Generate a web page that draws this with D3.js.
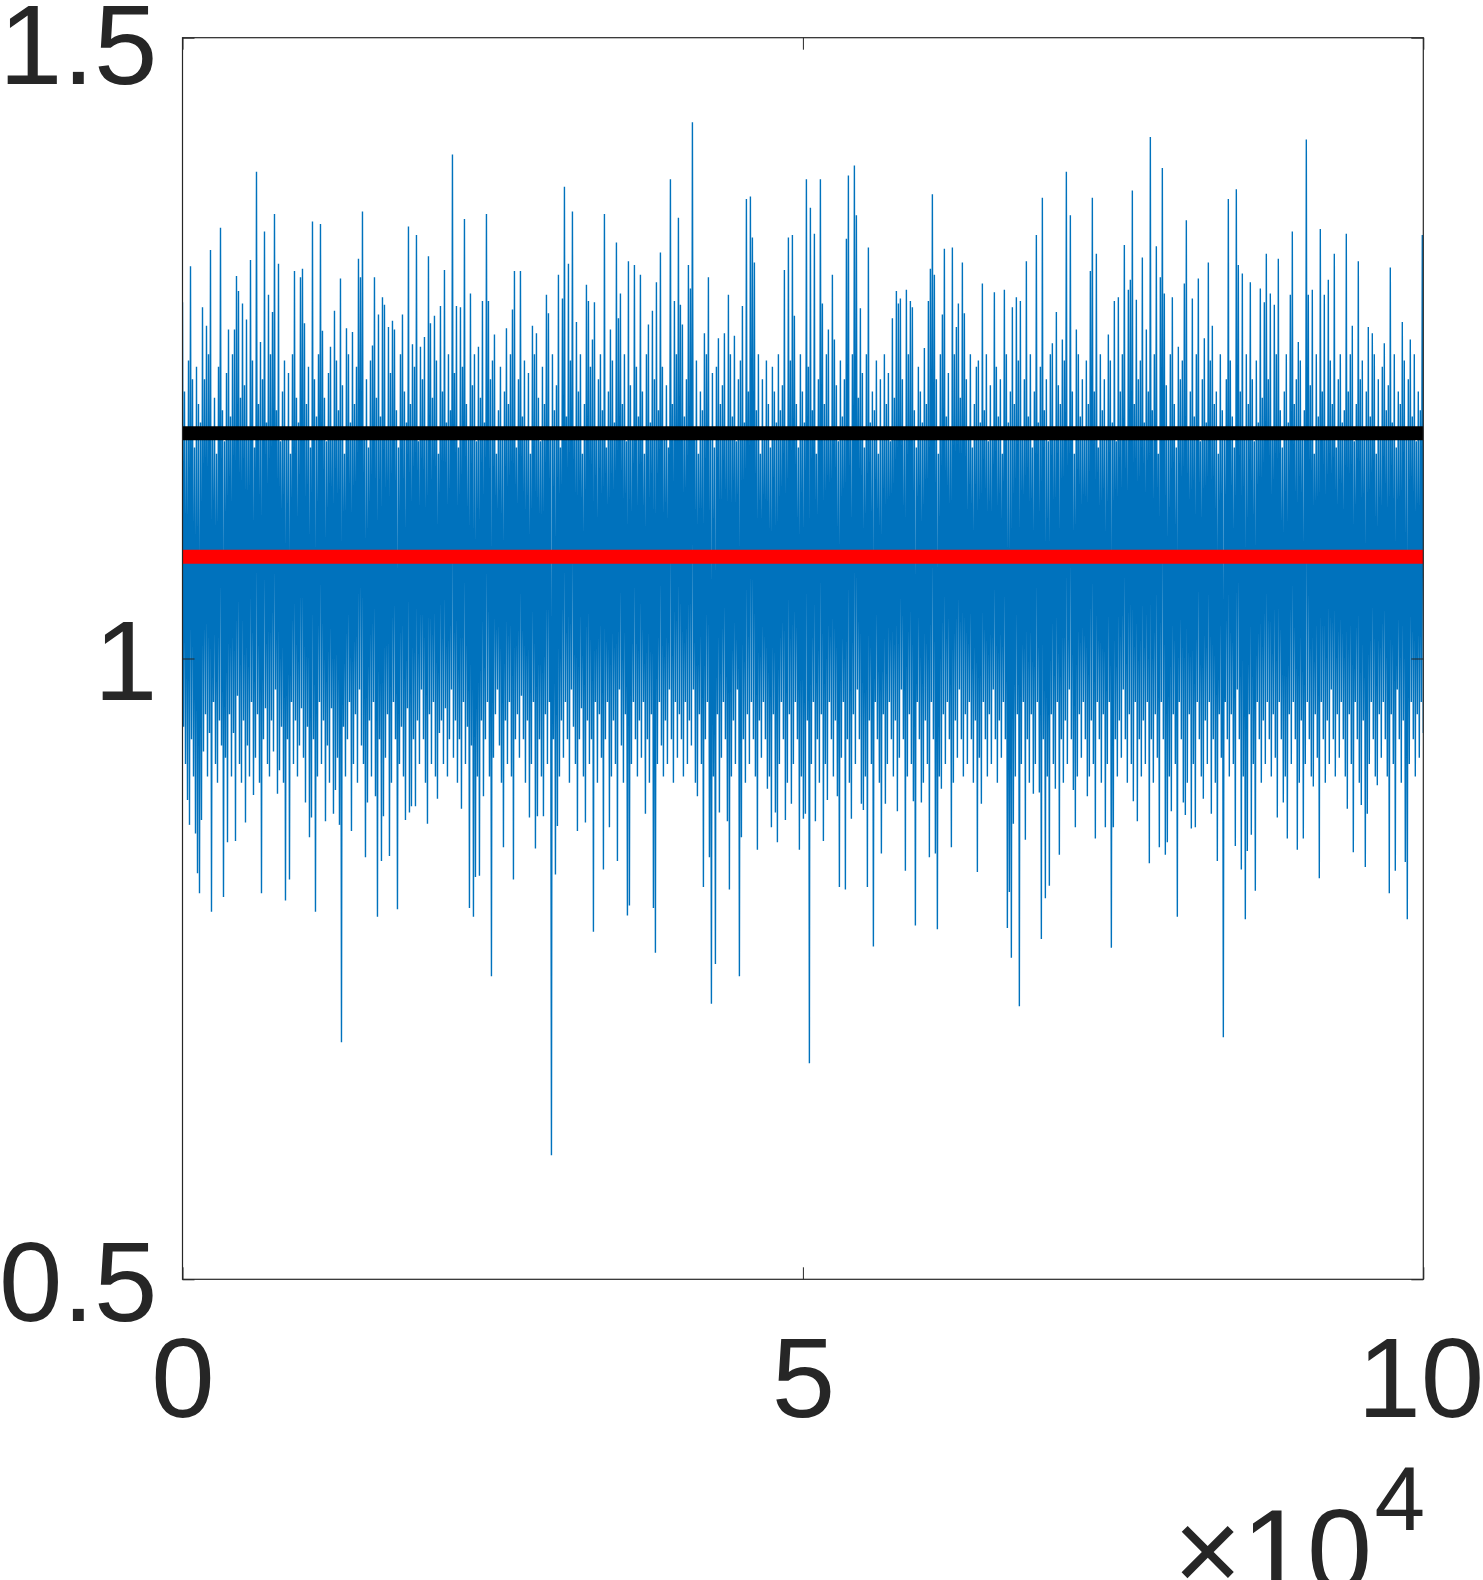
<!DOCTYPE html>
<html>
<head>
<meta charset="utf-8">
<script src="https://cdn.jsdelivr.net/npm/d3@7"></script>
<style>
  html, body { margin: 0; padding: 0; background: #fff; }
  svg { display: block; }
  text { font-family: "Liberation Sans", Arial, Helvetica, sans-serif; fill: #262626; }
</style>
</head>
<body>
<svg id="chart" width="1483" height="1580"></svg>
<script>
// ---- data ----
// per pixel-pair column: highest and lowest value reached by the noisy series
const upperValues = [
1.287,1.215,1.185,1.24,1.316,1.225,1.17,1.235,1.205,1.19,
1.283,1.225,1.268,1.245,1.329,1.18,1.21,1.165,1.235,1.347,
1.2,1.175,1.23,1.265,1.195,1.245,1.265,1.308,1.296,1.21,
1.286,1.22,1.273,1.18,1.321,1.24,1.17,1.392,1.205,1.255,
1.225,1.344,1.19,1.293,1.245,1.279,1.358,1.2,1.318,1.175,
1.215,1.24,1.185,1.23,1.165,1.245,1.312,1.21,1.19,1.307,
1.314,1.270,1.205,1.235,1.17,1.352,1.225,1.195,1.245,1.350,
1.264,1.21,1.175,1.23,1.251,1.185,1.280,1.24,1.2,1.306,
1.22,1.165,1.266,1.245,1.19,1.263,1.205,1.235,1.322,1.307,
1.360,1.18,1.225,1.17,1.24,1.252,1.307,1.21,1.277,1.195,
1.291,1.285,1.185,1.267,1.23,1.272,1.265,1.2,1.17,1.245,
1.277,1.215,1.19,1.348,1.205,1.253,1.235,1.341,1.175,1.251,
1.225,1.259,1.18,1.324,1.270,1.21,1.276,1.24,1.165,1.284,
1.215,1.313,1.19,1.245,1.2,1.406,1.23,1.284,1.17,1.283,
1.235,1.354,1.205,1.185,1.294,1.22,1.245,1.175,1.251,1.21,
1.288,1.19,1.358,1.288,1.225,1.24,1.261,1.165,1.2,1.235,
1.18,1.215,1.266,1.205,1.245,1.281,1.312,1.17,1.225,1.312,
1.195,1.24,1.185,1.23,1.165,1.268,1.245,1.262,1.21,1.175,
1.235,1.205,1.293,1.278,1.18,1.245,1.2,1.22,1.309,1.17,
1.290,1.380,1.195,1.318,1.24,1.360,1.185,1.271,1.215,1.245,
1.165,1.205,1.301,1.288,1.235,1.257,1.287,1.18,1.225,1.245,
1.2,1.358,1.17,1.215,1.265,1.24,1.19,1.335,1.274,1.294,
1.205,1.245,1.175,1.320,1.22,1.185,1.317,1.235,1.195,1.309,
1.215,1.165,1.245,1.269,1.19,1.280,1.225,1.303,1.2,1.327,
1.235,1.18,1.22,1.17,1.386,1.205,1.288,1.245,1.355,1.285,
1.269,1.195,1.225,1.317,1.298,1.432,1.185,1.24,1.165,1.215,
1.2,1.262,1.245,1.307,1.18,1.23,1.17,1.235,1.258,1.205,
1.22,1.262,1.185,1.293,1.245,1.195,1.260,1.175,1.225,1.24,
1.284,1.19,1.370,1.215,1.372,1.339,1.319,1.2,1.245,1.165,
1.225,1.18,1.24,1.205,1.17,1.235,1.215,1.19,1.245,1.2,
1.22,1.313,1.185,1.339,1.24,1.341,1.276,1.205,1.17,1.245,
1.215,1.19,1.386,1.235,1.363,1.2,1.342,1.165,1.225,1.386,
1.286,1.205,1.245,1.265,1.18,1.309,1.257,1.22,1.175,1.24,
1.195,1.225,1.338,1.389,1.185,1.245,1.397,1.357,1.21,1.282,
1.23,1.17,1.245,1.331,1.19,1.215,1.2,1.24,1.165,1.225,
1.185,1.245,1.205,1.23,1.175,1.274,1.21,1.296,1.286,1.290,
1.225,1.18,1.297,1.245,1.288,1.283,1.2,1.17,1.235,1.215,
1.19,1.250,1.205,1.288,1.314,1.374,1.309,1.225,1.165,1.245,
1.277,1.330,1.195,1.23,1.18,1.331,1.245,1.267,1.286,1.21,
1.319,1.278,1.225,1.185,1.245,1.17,1.205,1.235,1.24,1.19,
1.302,1.2,1.245,1.175,1.22,1.185,1.295,1.235,1.195,1.225,
1.165,1.297,1.245,1.19,1.215,1.283,1.205,1.291,1.24,1.288,
1.18,1.225,1.320,1.195,1.245,1.17,1.215,1.341,1.19,1.235,
1.371,1.2,1.225,1.175,1.245,1.254,1.185,1.279,1.22,1.205,
1.257,1.24,1.392,1.18,1.357,1.215,1.165,1.265,1.245,1.195,
1.225,1.185,1.24,1.205,1.312,1.371,1.215,1.326,1.17,1.245,
1.2,1.225,1.18,1.261,1.24,1.19,1.288,1.175,1.291,1.215,
1.245,1.333,1.185,1.297,1.305,1.377,1.205,1.289,1.225,1.24,
1.323,1.19,1.265,1.215,1.420,1.2,1.245,1.332,1.165,1.307,
1.395,1.294,1.22,1.18,1.245,1.291,1.205,1.17,1.251,1.225,
1.24,1.302,1.353,1.185,1.215,1.290,1.195,1.245,1.306,1.175,
1.225,1.258,1.19,1.319,1.24,1.268,1.205,1.215,1.165,1.245,
1.2,1.18,1.225,1.370,1.24,1.195,1.17,1.378,1.317,1.215,
1.310,1.185,1.245,1.205,1.303,1.225,1.175,1.24,1.19,1.298,
1.21,1.287,1.326,1.225,1.294,1.18,1.285,1.245,1.322,1.2,
1.17,1.215,1.245,1.19,1.293,1.344,1.205,1.225,1.255,1.24,
1.185,1.2,1.418,1.293,1.22,1.297,1.165,1.245,1.195,1.346,
1.215,1.293,1.18,1.305,1.24,1.205,1.326,1.17,1.225,1.245,
1.19,1.2,1.342,1.215,1.245,1.268,1.175,1.205,1.320,1.225,
1.24,1.185,1.215,1.267,1.195,1.262,1.245,1.165,1.225,1.18,
1.235,1.254,1.2,1.22,1.315,1.19,1.245,1.17,1.215,1.205,
1.271,1.24,1.185,1.225,1.257,1.195,1.245,1.175,1.215,1.2,
1.341
];
const lowerValues = [
0.945,0.915,0.886,0.866,0.935,0.905,0.859,0.827,0.811,0.870,
0.925,0.955,0.905,0.94,0.796,0.965,0.915,0.9,0.95,0.93,
0.808,0.92,0.852,0.955,0.905,0.94,0.853,0.97,0.915,0.9,
0.95,0.868,0.93,0.905,0.965,0.890,0.92,0.955,0.9,0.811,
0.935,0.96,0.915,0.905,0.95,0.925,0.975,0.891,0.91,0.945,
0.9,0.805,0.935,0.822,0.965,0.915,0.95,0.905,0.93,0.96,
0.92,0.884,0.945,0.856,0.872,0.935,0.796,0.905,0.965,0.915,
0.95,0.869,0.93,0.9,0.96,0.875,0.894,0.92,0.866,0.691,
0.945,0.905,0.935,0.965,0.861,0.915,0.955,0.9,0.975,0.93,
0.915,0.840,0.884,0.95,0.905,0.965,0.889,0.792,0.935,0.837,
0.873,0.92,0.955,0.841,0.9,0.965,0.935,0.798,0.915,0.945,
0.905,0.870,0.96,0.876,0.881,0.935,0.881,0.95,0.915,0.975,
0.935,0.9,0.867,0.955,0.915,0.965,0.905,0.887,0.94,0.95,
0.915,0.96,0.905,0.935,0.975,0.92,0.95,0.9,0.935,0.879,
0.965,0.915,0.945,0.799,0.93,0.792,0.824,0.905,0.825,0.95,
0.889,0.935,0.965,0.905,0.744,0.92,0.955,0.975,0.93,0.9,
0.848,0.95,0.915,0.965,0.905,0.822,0.935,0.955,0.92,0.97,
0.935,0.9,0.95,0.872,0.915,0.965,0.847,0.873,0.935,0.905,
0.873,0.955,0.915,0.965,0.600,0.935,0.826,0.865,0.905,0.95,
0.92,0.965,0.935,0.9,0.975,0.945,0.915,0.861,0.935,0.96,
0.905,0.868,0.95,0.915,0.935,0.780,0.965,0.9,0.955,0.92,
0.830,0.935,0.965,0.864,0.905,0.95,0.915,0.837,0.975,0.93,
0.9,0.955,0.793,0.801,0.915,0.965,0.935,0.905,0.95,0.92,
0.965,0.875,0.935,0.9,0.955,0.799,0.763,0.915,0.965,0.93,
0.905,0.95,0.915,0.975,0.935,0.9,0.965,0.92,0.955,0.935,
0.905,0.965,0.915,0.95,0.93,0.975,0.9,0.889,0.955,0.915,
0.816,0.935,0.965,0.840,0.722,0.905,0.754,0.955,0.876,0.92,
0.965,0.935,0.869,0.814,0.905,0.95,0.915,0.975,0.744,0.856,
0.935,0.9,0.955,0.915,0.965,0.935,0.905,0.846,0.95,0.92,
0.965,0.935,0.895,0.905,0.864,0.955,0.876,0.852,0.915,0.965,
0.935,0.870,0.9,0.955,0.883,0.915,0.965,0.935,0.846,0.905,
0.871,0.875,0.95,0.674,0.915,0.965,0.869,0.935,0.9,0.955,
0.853,0.915,0.886,0.965,0.935,0.905,0.95,0.889,0.816,0.92,
0.965,0.814,0.935,0.9,0.871,0.955,0.915,0.975,0.935,0.883,
0.878,0.905,0.816,0.95,0.915,0.768,0.965,0.935,0.9,0.843,
0.955,0.883,0.915,0.965,0.935,0.905,0.95,0.877,0.92,0.975,
0.935,0.829,0.905,0.955,0.915,0.885,0.785,0.965,0.935,0.884,
0.9,0.95,0.915,0.840,0.965,0.935,0.843,0.782,0.905,0.895,
0.955,0.915,0.965,0.935,0.848,0.9,0.95,0.92,0.975,0.935,
0.905,0.955,0.915,0.965,0.935,0.9,0.95,0.828,0.92,0.883,
0.965,0.935,0.905,0.955,0.915,0.975,0.935,0.9,0.95,0.92,
0.965,0.935,0.783,0.812,0.759,0.867,0.905,0.955,0.720,0.915,
0.965,0.854,0.935,0.9,0.955,0.891,0.915,0.965,0.892,0.774,
0.935,0.807,0.905,0.817,0.955,0.915,0.895,0.965,0.842,0.935,
0.9,0.95,0.915,0.975,0.935,0.894,0.864,0.905,0.955,0.92,
0.965,0.935,0.889,0.905,0.95,0.915,0.855,0.965,0.935,0.9,
0.955,0.864,0.915,0.965,0.767,0.864,0.935,0.905,0.95,0.92,
0.975,0.935,0.9,0.955,0.915,0.885,0.965,0.869,0.935,0.905,
0.95,0.915,0.965,0.835,0.935,0.9,0.955,0.92,0.848,0.965,
0.935,0.842,0.852,0.905,0.877,0.955,0.915,0.792,0.965,0.935,
0.884,0.874,0.9,0.955,0.863,0.915,0.864,0.965,0.935,0.905,
0.887,0.95,0.915,0.965,0.875,0.935,0.9,0.837,0.955,0.92,
0.695,0.965,0.935,0.905,0.955,0.915,0.849,0.975,0.935,0.830,
0.905,0.790,0.845,0.955,0.858,0.915,0.813,0.965,0.935,0.9,
0.95,0.915,0.965,0.935,0.905,0.955,0.92,0.872,0.965,0.935,
0.884,0.905,0.855,0.955,0.915,0.965,0.935,0.846,0.9,0.95,
0.855,0.915,0.965,0.935,0.905,0.897,0.955,0.92,0.823,0.965,
0.935,0.9,0.95,0.915,0.975,0.935,0.905,0.955,0.92,0.965,
0.935,0.905,0.879,0.955,0.915,0.844,0.965,0.935,0.9,0.882,
0.95,0.832,0.875,0.915,0.965,0.935,0.905,0.898,0.955,0.92,
0.965,0.935,0.905,0.811,0.955,0.915,0.829,0.975,0.935,0.9,
0.95,0.836,0.790,0.915,0.965,0.935,0.905,0.955,0.92,0.965,
0.94
];
const blackLevel = 1.1815;
const redLevel = 1.082;
const xTickValues = [0, 50000, 100000];
const xTickLabels = ["0", "5", "10"];
const yTickValues = [0.5, 1, 1.5];
const yTickLabels = ["0.5", "1", "1.5"];
const xDomain = [0, 100000];
const yDomain = [0.5, 1.5];

// ---- drawing ----
const svg = d3.select("#chart");
const L = 182.5, R = 1423.3, T = 37.7, B = 1279.3;
const x = d3.scaleLinear().domain(xDomain).range([L, R]);
const y = d3.scaleLinear().domain(yDomain).range([B, T]);

const series = [];
upperValues.forEach((u, i) => { series.push(u); series.push(lowerValues[i]); });
const step = (xDomain[1] - xDomain[0]) / (series.length - 1);

svg.append("defs").append("clipPath").attr("id", "clip")
  .append("rect").attr("x", L).attr("y", T).attr("width", R - L).attr("height", B - T);

const g = svg.append("g").attr("clip-path", "url(#clip)");

g.append("path")
  .datum(series)
  .attr("fill", "none")
  .attr("stroke", "#0072BD")
  .attr("stroke-width", 1.4)
  .attr("d", d3.line().x((d, i) => x(i * step)).y(d => y(d)));

g.append("line")
  .attr("x1", x(xDomain[0])).attr("x2", x(xDomain[1]))
  .attr("y1", y(blackLevel)).attr("y2", y(blackLevel))
  .attr("stroke", "#000000").attr("stroke-width", 14);

g.append("line")
  .attr("x1", x(xDomain[0])).attr("x2", x(xDomain[1]))
  .attr("y1", y(redLevel)).attr("y2", y(redLevel))
  .attr("stroke", "#FF0000").attr("stroke-width", 14);

// axes (MATLAB box style, ticks inside)
const axisColor = "#262626";
const fs = 114;
const fontFam = '"Liberation Sans", Arial, Helvetica, sans-serif';

function styleAxis(sel) {
  sel.select(".domain").remove();
  sel.selectAll(".tick line").attr("stroke", axisColor).attr("stroke-width", 1);
}

svg.append("g").attr("transform", `translate(0,${B})`)
  .call(d3.axisBottom(x).tickValues(xTickValues).tickSizeInner(-12).tickSizeOuter(0)
        .tickFormat((d, i) => xTickLabels[i]).tickPadding(0))
  .call(styleAxis)
  .call(s => s.selectAll(".tick text")
      .attr("y", 1417 - B).attr("dy", null)
      .attr("dx", (d, i) => i === xTickValues.length - 1 ? -3 : 0)
      .attr("font-size", fs).attr("fill", axisColor)
      .style("font-family", fontFam));

svg.append("g").attr("transform", `translate(0,${T})`)
  .call(d3.axisTop(x).tickValues(xTickValues).tickSizeInner(-12).tickSizeOuter(0).tickFormat(""))
  .call(styleAxis);

svg.append("g").attr("transform", `translate(${L},0)`)
  .call(d3.axisLeft(y).tickValues(yTickValues).tickSizeInner(-12).tickSizeOuter(0)
        .tickFormat((d, i) => yTickLabels[i]))
  .call(styleAxis)
  .call(s => s.selectAll(".tick text")
      .attr("x", -25).attr("dy", null)
      .attr("y", (d, i) => i === yTickValues.length - 1 ? 0.72 * fs + 1 - (y(d)) : 0.36 * fs)
      .attr("text-anchor", "end")
      .attr("font-size", fs).attr("fill", axisColor)
      .style("font-family", fontFam));

svg.append("g").attr("transform", `translate(${R},0)`)
  .call(d3.axisRight(y).tickValues(yTickValues).tickSizeInner(-12).tickSizeOuter(0).tickFormat(""))
  .call(styleAxis);

// box
svg.append("rect")
  .attr("x", L).attr("y", T).attr("width", R - L).attr("height", B - T)
  .attr("fill", "none").attr("stroke", axisColor).attr("stroke-width", 1.2);

// exponent label ×10^4
svg.append("text")
  .attr("x", 1372).attr("y", 1591)
  .attr("text-anchor", "end").attr("font-size", 117)
  .text("×10");
svg.append("text")
  .attr("x", 1425).attr("y", 1530)
  .attr("text-anchor", "end").attr("font-size", 91)
  .text("4");
</script>
</body>
</html>
